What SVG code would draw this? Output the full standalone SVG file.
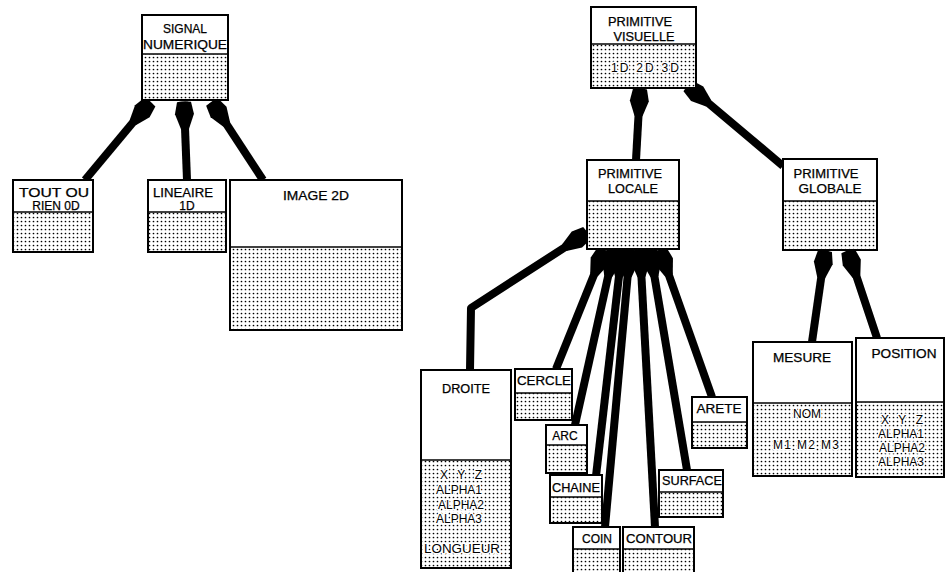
<svg xmlns="http://www.w3.org/2000/svg" width="947" height="572" viewBox="0 0 947 572">
<defs>
<pattern id="dots" width="4" height="4" patternUnits="userSpaceOnUse">
<rect width="4" height="4" fill="#fff"/>
<circle cx="1.5" cy="1.5" r="0.85" fill="#000"/>
</pattern>
<marker id="ah" viewBox="-30 -12 32 24" refX="0" refY="0" markerWidth="32" markerHeight="24" markerUnits="userSpaceOnUse" orient="auto">
<path d="M0,-7 Q1.5,0 0,7 L-12,9.5 L-27,4 L-27,-4 L-12,-9.5 Z" fill="#000"/>
</marker>
</defs>
<style>
.body{fill:url(#dots);stroke:none}
.head{fill:#fff;stroke:none}
.frame{fill:none;stroke:#000;stroke-width:2}
.div{stroke:#000;stroke-width:1.6}
text{font-family:"Liberation Sans",Arial,sans-serif;font-size:12px;fill:#000;stroke:#000;stroke-width:0.25;text-anchor:middle}
.od{stroke:#fff;stroke-width:3;paint-order:stroke;stroke-linejoin:round}
.conn path{fill:none;stroke:#000;stroke-width:8;stroke-linejoin:round;marker-end:url(#ah)}
</style>
<rect width="947" height="572" fill="#fff"/>

<g class="conn" id="connectors">
<path d="M85,180 L150,102"/>
<path d="M187,180 L184,102"/>
<path d="M263,180 L212,102"/>
<path d="M636,160 L640,89"/>
<path d="M783,166 L688,86"/>
<path d="M470,370 L471,308 L587,233"/>
<path d="M556,369 L604,250"/>
<path d="M575,425 L614,250"/>
<path d="M596,476 L622,250"/>
<path d="M605,527 L630,250"/>
<path d="M655,527 L640,250"/>
<path d="M687,470 L650,250"/>
<path d="M712,397 L660,250"/>
<path d="M812,342 L825,251"/>
<path d="M877,338 L848,251"/>
</g>

<g id="signal-numerique">
<rect class="body" x="142" y="15" width="86" height="85"/>
<rect class="head" x="142" y="15" width="86" height="39"/>
<rect class="frame" x="142" y="15" width="86" height="85"/>
<line class="div" x1="142" y1="54" x2="228" y2="54"/>
<text x="185" y="33">SIGNAL</text>
<text x="185" y="49" textLength="84" lengthAdjust="spacingAndGlyphs">NUMERIQUE</text>
</g>

<g id="tout-ou-rien">
<rect class="body" x="13" y="180" width="80" height="72"/>
<rect class="head" x="13" y="180" width="80" height="32"/>
<rect class="frame" x="13" y="180" width="80" height="72"/>
<line class="div" x1="13" y1="212" x2="93" y2="212"/>
<text x="54" y="197" textLength="70" lengthAdjust="spacingAndGlyphs">TOUT OU</text>
<text x="56" y="210">RIEN 0D</text>
</g>

<g id="lineaire">
<rect class="body" x="148" y="180" width="78" height="72"/>
<rect class="head" x="148" y="180" width="78" height="32"/>
<rect class="frame" x="148" y="180" width="78" height="72"/>
<line class="div" x1="148" y1="212" x2="226" y2="212"/>
<text x="183" y="197" textLength="60" lengthAdjust="spacingAndGlyphs">LINEAIRE</text>
<text x="187" y="210">1D</text>
</g>

<g id="image-2d">
<rect class="body" x="230" y="180" width="172" height="150"/>
<rect class="head" x="230" y="180" width="172" height="67"/>
<rect class="frame" x="230" y="180" width="172" height="150"/>
<line class="div" x1="230" y1="247" x2="402" y2="247"/>
<text x="316" y="200" textLength="66" lengthAdjust="spacingAndGlyphs">IMAGE 2D</text>
</g>

<g id="primitive-visuelle">
<rect class="body" x="591" y="7" width="105" height="81"/>
<rect class="head" x="591" y="7" width="105" height="37"/>
<rect class="frame" x="591" y="7" width="105" height="81"/>
<line class="div" x1="591" y1="44" x2="696" y2="44"/>
<text x="640" y="26" textLength="64" lengthAdjust="spacingAndGlyphs">PRIMITIVE</text>
<text x="644" y="41" textLength="61" lengthAdjust="spacingAndGlyphs">VISUELLE</text>
<text class="od" x="645" y="72" textLength="68" lengthAdjust="spacing">1D 2D 3D</text>
</g>

<g id="primitive-locale">
<rect class="body" x="587" y="160" width="92" height="89"/>
<rect class="head" x="587" y="160" width="92" height="41"/>
<rect class="frame" x="587" y="160" width="92" height="89"/>
<line class="div" x1="587" y1="201" x2="679" y2="201"/>
<text x="630" y="178" textLength="64" lengthAdjust="spacingAndGlyphs">PRIMITIVE</text>
<text x="633" y="193" textLength="50" lengthAdjust="spacingAndGlyphs">LOCALE</text>
</g>

<g id="primitive-globale">
<rect class="body" x="783" y="159" width="94" height="91"/>
<rect class="head" x="783" y="159" width="94" height="42"/>
<rect class="frame" x="783" y="159" width="94" height="91"/>
<line class="div" x1="783" y1="201" x2="877" y2="201"/>
<text x="826" y="178" textLength="65" lengthAdjust="spacingAndGlyphs">PRIMITIVE</text>
<text x="830" y="193" textLength="63" lengthAdjust="spacingAndGlyphs">GLOBALE</text>
</g>

<g id="droite">
<rect class="body" x="421" y="370" width="90" height="198"/>
<rect class="head" x="421" y="370" width="90" height="90"/>
<rect class="frame" x="421" y="370" width="90" height="198"/>
<line class="div" x1="421" y1="460" x2="511" y2="460"/>
<text x="466" y="393" textLength="48" lengthAdjust="spacingAndGlyphs">DROITE</text>
<text class="od" x="461" y="479" textLength="42" lengthAdjust="spacing">X Y Z</text>
<text class="od" x="459" y="494">ALPHA1</text>
<text class="od" x="461" y="509">ALPHA2</text>
<text class="od" x="459" y="523">ALPHA3</text>
<text class="od" x="462" y="553" textLength="76" lengthAdjust="spacingAndGlyphs">LONGUEUR</text>
</g>

<g id="cercle">
<rect class="body" x="515" y="369" width="57" height="51"/>
<rect class="head" x="515" y="369" width="57" height="24"/>
<rect class="frame" x="515" y="369" width="57" height="51"/>
<line class="div" x1="515" y1="393" x2="572" y2="393"/>
<text x="544" y="385" textLength="54" lengthAdjust="spacingAndGlyphs">CERCLE</text>
</g>

<g id="arc">
<rect class="body" x="546" y="425" width="41" height="48"/>
<rect class="head" x="546" y="425" width="41" height="20"/>
<rect class="frame" x="546" y="425" width="41" height="48"/>
<line class="div" x1="546" y1="445" x2="587" y2="445"/>
<text x="565" y="440">ARC</text>
</g>

<g id="chaine">
<rect class="body" x="550" y="475" width="52" height="48"/>
<rect class="head" x="550" y="475" width="52" height="22"/>
<rect class="frame" x="550" y="475" width="52" height="48"/>
<line class="div" x1="550" y1="497" x2="602" y2="497"/>
<text x="576" y="492" textLength="48" lengthAdjust="spacingAndGlyphs">CHAINE</text>
</g>

<g id="coin">
<rect class="body" x="573" y="527" width="47" height="50"/>
<rect class="head" x="573" y="527" width="47" height="22"/>
<rect class="frame" x="573" y="527" width="47" height="50"/>
<line class="div" x1="573" y1="549" x2="620" y2="549"/>
<text x="597" y="543">COIN</text>
</g>

<g id="contour">
<rect class="body" x="623" y="527" width="71" height="50"/>
<rect class="head" x="623" y="527" width="71" height="22"/>
<rect class="frame" x="623" y="527" width="71" height="50"/>
<line class="div" x1="623" y1="549" x2="694" y2="549"/>
<text x="659" y="543" textLength="66" lengthAdjust="spacingAndGlyphs">CONTOUR</text>
</g>

<g id="surface">
<rect class="body" x="659" y="470" width="64" height="47"/>
<rect class="head" x="659" y="470" width="64" height="22"/>
<rect class="frame" x="659" y="470" width="64" height="47"/>
<line class="div" x1="659" y1="492" x2="723" y2="492"/>
<text x="692" y="485" textLength="60" lengthAdjust="spacingAndGlyphs">SURFACE</text>
</g>

<g id="arete">
<rect class="body" x="692" y="397" width="55" height="51"/>
<rect class="head" x="692" y="397" width="55" height="25"/>
<rect class="frame" x="692" y="397" width="55" height="51"/>
<line class="div" x1="692" y1="422" x2="747" y2="422"/>
<text x="719" y="413" textLength="45" lengthAdjust="spacingAndGlyphs">ARETE</text>
</g>

<g id="mesure">
<rect class="body" x="753" y="342" width="99" height="134"/>
<rect class="head" x="753" y="342" width="99" height="61"/>
<rect class="frame" x="753" y="342" width="99" height="134"/>
<line class="div" x1="753" y1="403" x2="852" y2="403"/>
<text x="802" y="362" textLength="58" lengthAdjust="spacingAndGlyphs">MESURE</text>
<text class="od" x="807" y="418">NOM</text>
<text class="od" x="806" y="449" textLength="66" lengthAdjust="spacing">M1 M2 M3</text>
</g>

<g id="position">
<rect class="body" x="856" y="338" width="88" height="139"/>
<rect class="head" x="856" y="338" width="88" height="64"/>
<rect class="frame" x="856" y="338" width="88" height="139"/>
<line class="div" x1="856" y1="402" x2="944" y2="402"/>
<text x="904" y="358" textLength="65" lengthAdjust="spacingAndGlyphs">POSITION</text>
<text class="od" x="902" y="424" textLength="42" lengthAdjust="spacing">X Y Z</text>
<text class="od" x="901" y="438">ALPHA1</text>
<text class="od" x="902" y="452">ALPHA2</text>
<text class="od" x="901" y="466">ALPHA3</text>
</g>
</svg>
